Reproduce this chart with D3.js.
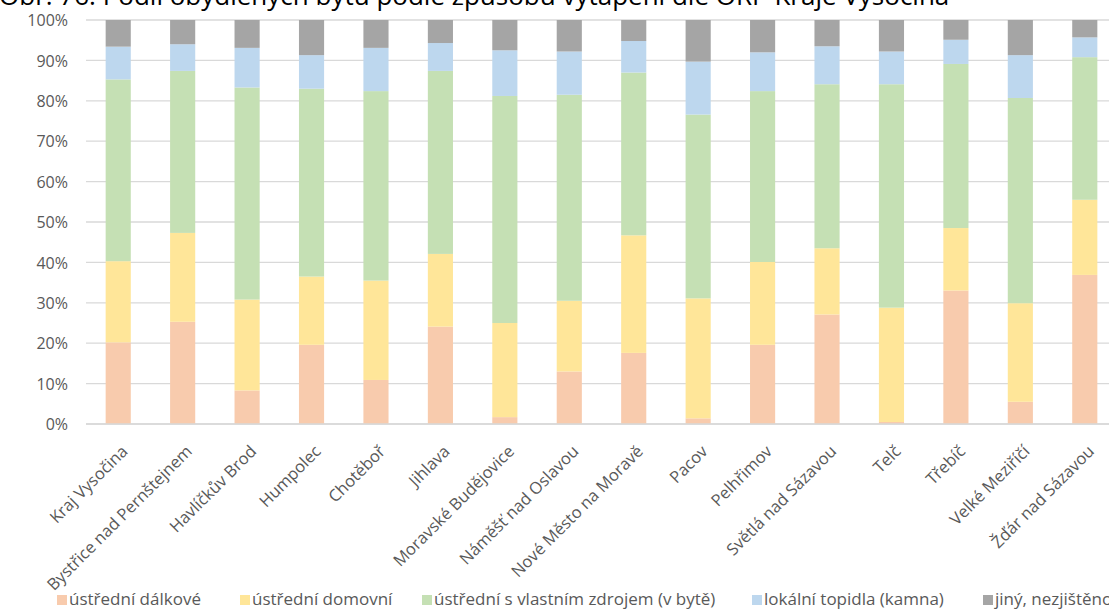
<!DOCTYPE html>
<html><head><meta charset="utf-8">
<script src="https://cdn.jsdelivr.net/npm/d3@7"></script>
<style>
html,body{margin:0;padding:0;background:#fff;overflow:hidden;}
svg{display:block;font-family:"Open Sans",sans-serif;}
</style></head>
<body>
<svg id="c" width="1109" height="613"></svg>
<script>
const titleText = "Obr. 76: Podíl obydlených bytů podle způsobu vytápění dle ORP Kraje Vysočina";
const categories = ["Kraj Vysočina","Bystřice nad Pernštejnem","Havlíčkův Brod","Humpolec","Chotěboř","Jihlava","Moravské Budějovice","Náměšť nad Oslavou","Nové Město na Moravě","Pacov","Pelhřimov","Světlá nad Sázavou","Telč","Třebíč","Velké Meziříčí","Žďár nad Sázavou"];
const seriesNames = ["ústřední dálkové","ústřední domovní","ústřední s vlastním zdrojem (v bytě)","lokální topidla (kamna)","jiný, nezjištěno"];
const dalkove   = [20.2,25.3, 8.3,19.6,10.9,24.1, 1.7,13.0,17.6, 1.4,19.6,27.1, 0.5,33.1, 5.5,36.9];
const domovni   = [20.1,22.0,22.5,16.9,24.6,18.0,23.3,17.5,29.1,29.7,20.5,16.4,28.3,15.5,24.4,18.6];
const vlastni   = [45.0,40.1,52.5,46.5,46.9,45.3,56.2,51.0,40.3,45.5,42.3,40.6,55.3,40.7,50.8,35.3];
const lokalni   = [ 8.1, 6.6, 9.8, 8.3,10.7, 6.9,11.3,10.7, 7.8,13.1, 9.6, 9.4, 8.1, 6.0,10.6, 4.9];
const jiny      = [ 6.6, 6.0, 6.9, 8.7, 6.9, 5.7, 7.5, 7.8, 5.2,10.3, 8.0, 6.5, 7.8, 4.9, 8.7, 4.3];
const yTicks = [0,0.1,0.2,0.3,0.4,0.5,0.6,0.7,0.8,0.9,1.0];
const colors = ["#F8CBAD","#FFE699","#C5E0B4","#BDD7EE","#A5A5A5"];

const allSeries = [dalkove, domovni, vlastni, lokalni, jiny];
const rows = categories.map((c,i)=>{
  const r = {cat:c};
  const tot = allSeries.reduce((s,a)=>s+a[i],0);
  seriesNames.forEach((n,k)=>{ r[n] = allSeries[k][i]/tot; });
  return r;
});
const stack = d3.stack().keys(seriesNames)(rows);

const svg = d3.select("#c");
const x = d3.scaleBand().domain(categories).range([86,1117]).paddingInner(0.61).paddingOuter(0.305);
const y = d3.scaleLinear().domain([0,1]).range([424,20]);

// title (cut at top)
svg.append("text").attr("x",-1).attr("y",5).attr("font-size",26).attr("fill","#000").text(titleText);

// gridlines
svg.append("g").selectAll("line").data(yTicks).join("line")
  .attr("x1",86).attr("x2",1109).attr("y1",d=>y(d)).attr("y2",d=>y(d))
  .attr("stroke","#d9d9d9").attr("stroke-width",1.3);

// y labels
const yAxis = d3.axisLeft(y).tickValues(yTicks).tickFormat(d3.format(".0%")).tickSize(0).tickPadding(0);
const gy = svg.append("g").attr("transform","translate(68,0)").call(yAxis);
gy.select(".domain").remove();
gy.selectAll("text").attr("font-size",16).attr("fill","#595959").attr("font-family","Open Sans").attr("dy","0.35em");

// bars
svg.append("g").selectAll("g").data(stack).join("g").attr("fill",(d,i)=>colors[i])
  .selectAll("rect").data(d=>d).join("rect")
  .attr("x",d=>x(d.data.cat)).attr("width",x.bandwidth())
  .attr("y",d=>y(d[1])).attr("height",d=>y(d[0])-y(d[1]));

// x axis
const xAxis = d3.axisBottom(x).tickSize(0).tickPadding(0);
const gx = svg.append("g").attr("transform","translate(0,424)").call(xAxis);
gx.select(".domain").attr("stroke","#d9d9d9").attr("stroke-width",1.3).attr("d","M86,0H1109");
gx.selectAll(".tick text").attr("font-size",16.5).attr("fill","#595959").attr("font-family","Open Sans")
  .attr("text-anchor","end").attr("dy","0.72em")
  .attr("transform","translate(2,20) rotate(-45)");

// legend
const legX = [57,240,422,752,983];
const leg = svg.append("g").selectAll("g").data(seriesNames).join("g")
  .attr("transform",(d,i)=>`translate(${legX[i]},605)`);
leg.append("rect").attr("x",0).attr("y",-10).attr("width",10).attr("height",10).attr("fill",(d,i)=>colors[i]);
leg.append("text").attr("x",12).attr("y",0).attr("font-size",17).attr("fill","#595959").text(d=>d);
</script>
</body></html>
